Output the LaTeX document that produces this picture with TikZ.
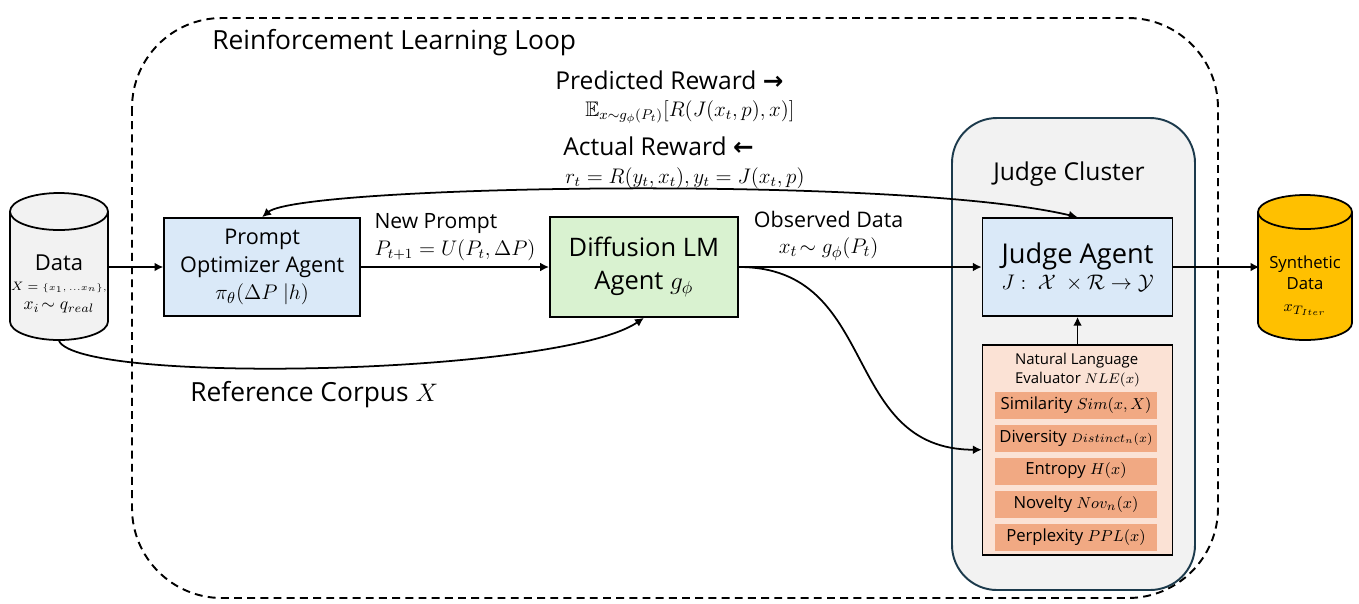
\documentclass[tikz,border=0pt]{standalone}
\usepackage{amssymb}
\usepackage{fontspec}
\setmainfont{Open Sans}
\newfontfamily\arrowfont{DejaVu Sans}
\usetikzlibrary{positioning,arrows.meta}

\definecolor{datagray}{HTML}{F2F2F2}
\definecolor{promptblue}{HTML}{DAE9F8}
\definecolor{diffgreen}{HTML}{D9F2D0}
\definecolor{clustergray}{HTML}{F2F2F2}
\definecolor{clusteredge}{HTML}{1C3A4C}
\definecolor{nlepeach}{HTML}{FBE2D5}
\definecolor{metricorange}{HTML}{F1A983}
\definecolor{synthgold}{HTML}{FFC000}

\begin{document}
\begin{tikzpicture}[x=0.02cm, y=-0.02cm, >={Latex[length=5pt,width=5pt]}]
  \tikzstyle{agent}=[rectangle, draw, line width=1pt, align=center, inner sep=2pt]
  \tikzstyle{storebody}=[rectangle, inner sep=0pt]
  \tikzstyle{drum}=[line width=1pt]
  \tikzstyle{metric}=[rectangle, fill=metricorange, minimum width=3.26cm, minimum height=0.54cm, inner sep=0pt, font=\fontsize{9.5}{12}\selectfont]
  \tikzstyle{lbl}=[anchor=west, inner sep=0pt]
  \tikzstyle{link}=[->, line width=1pt]

  \useasboundingbox (0,0) rectangle (1359,603);

  % the loop and the judge cluster
  \draw[dash pattern=on 4.5pt off 3pt, line width=1.1pt, rounded corners=1.8cm] (132,18) rectangle (1218,598);
  \node[lbl, font=\fontsize{15}{17}\selectfont] (looptitle) at (212,43) {Reinforcement Learning Loop};
  \draw[fill=clustergray, draw=clusteredge, line width=1.1pt, rounded corners=0.9cm] (952,118) rectangle (1195,590);
  \node[font=\fontsize{14}{16}\selectfont] (clustertitle) at (1069,174) {Judge Cluster};

  % data drum
  \draw[drum, fill=datagray] (10,211.5) -- (10,321.5) arc[start angle=180, end angle=0, x radius=49, y radius=18.5]
    -- (108,211.5) arc[start angle=0, end angle=-180, x radius=49, y radius=18.5] -- cycle;
  \draw[drum] (10,211.5) arc[start angle=180, end angle=0, x radius=49, y radius=18.5];
  \node[storebody, minimum width=1.96cm, minimum height=2.94cm] (data) at (59,267) {};
  \node[align=center, inner sep=0pt] (datatext) at (59,284)
    {{\fontsize{12.5}{15}\selectfont Data}\\[-1pt]
     {\fontsize{7.5}{10}\selectfont $X={\scriptstyle\{x_1,\,\ldots x_n\},}$}\\[-1pt]
     {\fontsize{10}{12}\selectfont $x_i\!\sim q_{real}$}};

  % main row
  \node[agent, fill=promptblue, minimum width=3.92cm, minimum height=1.96cm, right=1.1cm of data,
        font=\fontsize{12.3}{15.5}\selectfont] (prompt)
    {Prompt\\Optimizer Agent\\$\pi_\theta(\Delta P\ |h)$};
  \node[agent, fill=diffgreen, minimum width=3.76cm, minimum height=2cm, right=3.76cm of prompt,
        font=\fontsize{14.5}{19}\selectfont] (diffusion)
    {Diffusion LM\\Agent $g_\phi$};
  \node[agent, fill=promptblue, minimum width=3.8cm, minimum height=1.96cm, right=4.86cm of diffusion] (judge)
    {{\fontsize{15.5}{17}\selectfont Judge Agent}\\[3pt]
     {\fontsize{12}{14}\selectfont $J:\ \mathcal{X}\ \times\mathcal{R}\rightarrow\mathcal{Y}$}};

  % synthetic drum
  \node[storebody, minimum width=1.88cm, minimum height=2.9cm, right=1.72cm of judge] (synth) {};
  \draw[drum, fill=synthgold] (1258,212) -- (1258,323) arc[start angle=180, end angle=0, x radius=47, y radius=17]
    -- (1352,212) arc[start angle=0, end angle=-180, x radius=47, y radius=17] -- cycle;
  \draw[drum] (1258,212) arc[start angle=180, end angle=0, x radius=47, y radius=17];
  \node[align=center, inner sep=0pt, font=\fontsize{9.5}{12}\selectfont] (synthtext) at (1305,286)
    {Synthetic\\Data\\$x_{T_{Iter}}$};

  % evaluator
  \node[agent, fill=nlepeach, minimum width=3.8cm, minimum height=4.2cm, below=0.54cm of judge] (nle) {};
  \node[anchor=north, align=left, font=\fontsize{8.5}{10.5}\selectfont] (nletitle) at ([yshift=-2pt]nle.north)
    {Natural Language\\Evaluator $NLE(x)$};
  \foreach \txt [count=\i] in {{Similarity $Sim(x,X)$},
                               {Diversity {\fontsize{7.5}{9}\selectfont$Distinct_n(x)$}},
                               {Entropy $H(x)$},
                               {Novelty $Nov_n(x)$},
                               {Perplexity $PPL(x)$}}
    \node[metric] (m\i) at (1076,372+33*\i) {\txt};

  % connectors
  \draw[link] (data) -- (prompt);
  \draw[link] (prompt) -- node[above, pos=0.5, align=left, font=\fontsize{12}{15}\selectfont] (newprompt)
    {New Prompt\\$P_{t+1}=U(P_t,\Delta P)$} (diffusion);
  \draw[link] (diffusion) -- node[above, pos=0.37, align=center, font=\fontsize{12.2}{15}\selectfont] (observed)
    {Observed Data\\$x_t\!\sim g_\phi(P_t)$} (judge);
  \draw[link] (judge) -- (synth);
  \draw[link] (nle) -- (judge);
  \draw[link] (diffusion.east) to[out=0, in=180, looseness=1.2] (nle.west);
  \draw[link] (data.south) .. controls (80,385) and (560,375) .. (diffusion.south);
  \draw[<->, line width=1pt] (prompt.north) .. controls (300,185) and (900,175) .. (judge.north);

  % reward labels
  \node[lbl, font=\fontsize{14}{16}\selectfont] (predicted) at (555,80) {Predicted Reward {\arrowfont\bfseries →}};
  \node[lbl, font=\fontsize{12}{14}\selectfont] (predformula) at (585,112) {$\mathbb{E}_{x\sim g_\phi(P_t)}[R(J(x_t,p),x)]$};
  \node[lbl, font=\fontsize{14}{16}\selectfont] (actual) at (563,146) {Actual Reward {\arrowfont\bfseries ←}};
  \node[lbl, font=\fontsize{12}{14}\selectfont] (actformula) at (565,178) {$r_t=R(y_t,x_t),y_t=J(x_t,p)$};
  \node[lbl, font=\fontsize{15}{17}\selectfont] (corpus) at (190,395) {Reference Corpus $X$};
\end{tikzpicture}
\end{document}
